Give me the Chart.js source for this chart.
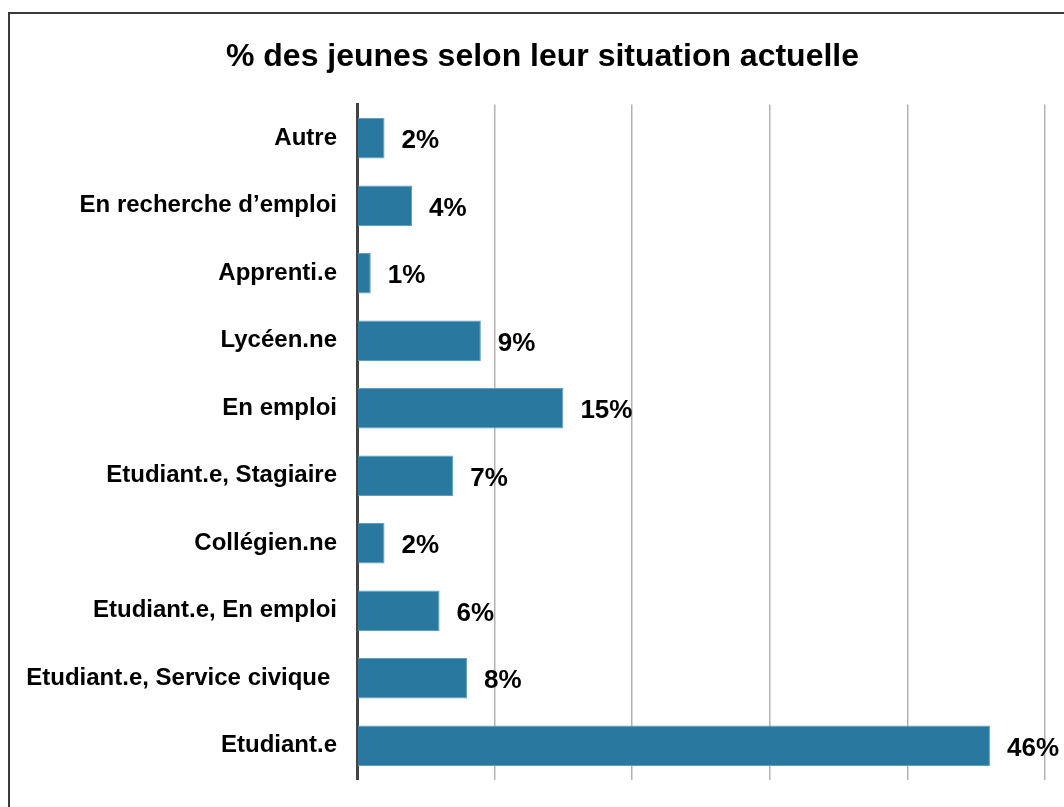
<!DOCTYPE html>
<html>
<head>
<meta charset="utf-8">
<script src="https://cdn.jsdelivr.net/npm/chart.js@4"></script>
<style>
  body { margin: 0; overflow: hidden; background: #fff; }
  #frame { position: absolute; left: 8px; top: 12px; width: 1200px; height: 900px; border: 2px solid #3a3a3a; }
  #wrap { position: absolute; left: 10px; top: 14px; width: 1066px; height: 800px; }
</style>
</head>
<body>
<div id="frame"></div>
<div id="wrap"><canvas id="myChart"></canvas></div>
<script>
'use strict';

// data
const categories = [
  'Autre',
  'En recherche d’emploi',
  'Apprenti.e',
  'Lycéen.ne',
  'En emploi',
  'Etudiant.e, Stagiaire',
  'Collégien.ne',
  'Etudiant.e, En emploi',
  'Etudiant.e, Service civique ',
  'Etudiant.e'
];
const values = [2, 4, 1, 9, 15, 7, 2, 6, 8, 46];
const xTicks = [0, 10, 20, 30, 40, 50];

const FONT = '"Liberation Sans", Arial, sans-serif';

// draw the "n%" labels next to each bar
const valueLabels = {
  id: 'valueLabels',
  afterLayout(chart) {
    // let the long category labels spill into the left padding (no clipping)
    chart.scales.y.left = 0;
  },
  afterDatasetsDraw(chart) {
    const ctx = chart.ctx;
    const meta = chart.getDatasetMeta(0);
    ctx.save();
    ctx.font = 'bold 26px ' + FONT;
    ctx.fillStyle = '#000';
    ctx.textAlign = 'left';
    ctx.textBaseline = 'middle';
    meta.data.forEach(function(bar, i) {
      ctx.fillText(values[i] + '%', bar.x + 17, bar.y + 3);
    });
    ctx.restore();
  }
};

const ctx = document.getElementById('myChart').getContext('2d');

new Chart(ctx, {
  type: 'bar',
  data: {
    labels: categories,
    datasets: [
      {
        data: values,
        backgroundColor: '#2878a0',
        borderColor: '#5f9ec0',
        borderWidth: 1,
        barPercentage: 0.6,
        categoryPercentage: 1
      }
    ]
  },
  options: {
    indexAxis: 'y',
    responsive: true,
    maintainAspectRatio: false,
    animation: false,
    layout: {
      padding: { left: 30, right: 31, top: 0, bottom: 30 }
    },
    plugins: {
      legend: { display: false },
      tooltip: { enabled: false },
      title: {
        display: true,
        text: '% des jeunes selon leur situation actuelle',
        color: '#000',
        font: { family: FONT, size: 32, weight: 'bold' },
        padding: { top: 24, bottom: 28 }
      }
    },
    scales: {
      x: {
        min: 0,
        max: 50,
        z: 1,
        afterBuildTicks: function(scale) {
          scale.ticks = xTicks.map(function(v) { return { value: v }; });
        },
        ticks: { display: false },
        border: { display: false },
        grid: {
          color: 'rgba(0,0,0,0.3)',
          lineWidth: 1.5,
          drawTicks: false
        }
      },
      y: {
        z: 1,
        afterFit: function(scale) { scale.width = 317; },
        ticks: {
          color: '#000',
          padding: 20,
          font: { family: FONT, size: 24, weight: 'bold' }
        },
        border: { display: true, color: '#444', width: 3 },
        grid: { display: false, drawTicks: false }
      }
    }
  },
  plugins: [valueLabels]
});
</script>
</body>
</html>
